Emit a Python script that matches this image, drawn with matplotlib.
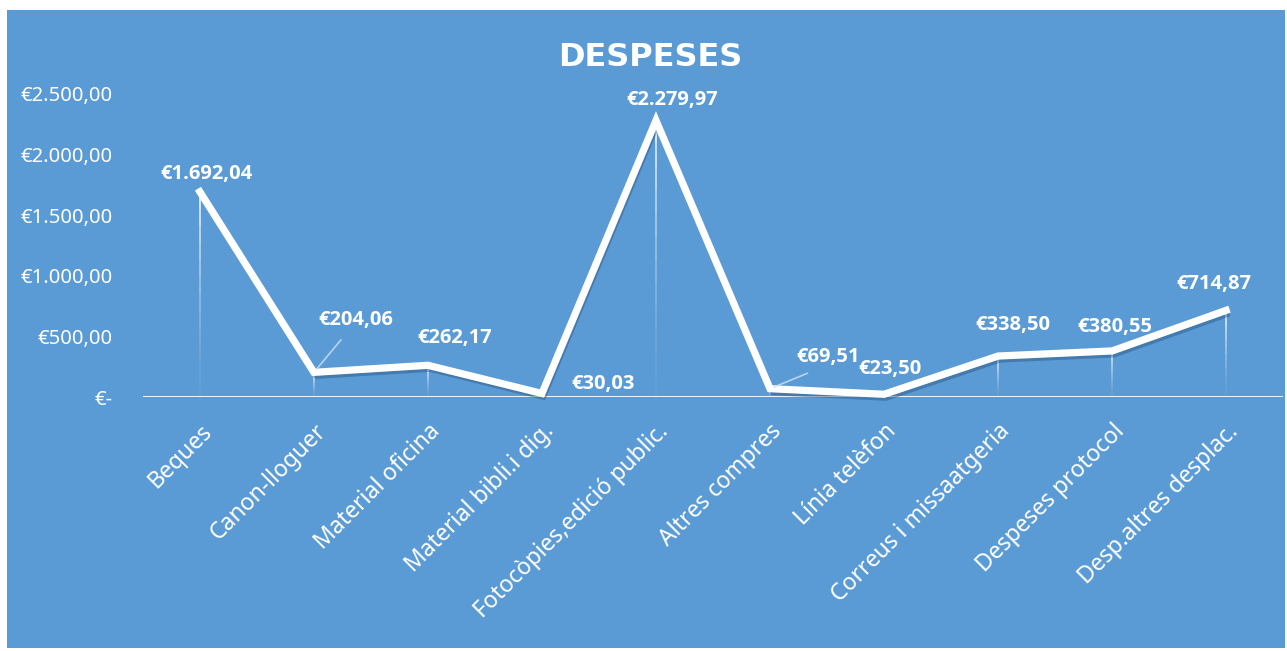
import matplotlib
matplotlib.use("Agg")
import matplotlib.pyplot as plt
import matplotlib.patheffects as pe
from matplotlib.patches import Rectangle
from matplotlib.transforms import ScaledTranslation
import numpy as np

categories = ["Beques", "Canon-lloguer", "Material oficina", "Material bibli.i dig.",
              "Fotocòpies,edició public.", "Altres compres", "Línia telèfon",
              "Correus i missaatgeria", "Despeses protocol", "Desp.altres desplac."]
values = [1692.04, 204.06, 262.17, 30.03, 2279.97, 69.51, 23.50, 338.50, 380.55, 714.87]
value_labels = ["€1.692,04", "€204,06", "€262,17", "€30,03", "€2.279,97",
                "€69,51", "€23,50", "€338,50", "€380,55", "€714,87"]
yticks = [0, 500, 1000, 1500, 2000, 2500]
ytick_labels = ["€-", "€500,00", "€1.000,00", "€1.500,00", "€2.000,00", "€2.500,00"]

# label offsets in points (dx, dy) from each data point to label centre
label_offsets = [(5, 13), (30, 38), (19, 20), (44, 7), (12, 15),
                 (42, 23), (4, 18), (11, 22), (2, 17), (-9, 19)]
leader = [False, True, False, False, False, True, False, False, False, False]

blue = "#5B9BD5"
plt.rcParams['font.family'] = ['Noto Sans', 'DejaVu Sans']

fig = plt.figure(figsize=(12.87, 6.51), dpi=100)
fig.patch.set_facecolor("white")
fig.patches.append(Rectangle((7 / 1287, 3 / 651), 1278 / 1287, 638 / 651,
                             transform=fig.transFigure, facecolor=blue,
                             edgecolor="none", zorder=-5))

ax = fig.add_axes([0.111, 0.390, 0.886, 0.466])
ax.set_zorder(2)
ax.set_facecolor("none")
x = np.arange(len(categories))

# drop lines, fading towards the axis
for xi, v in zip(x, values):
    n = 12
    for k in range(n):
        y0 = v * k / n
        y1 = v * (k + 1) / n
        ax.plot([xi, xi], [y0, y1], color="white", lw=1.3,
                alpha=0.02 + 0.8 * ((k + 1) / n) ** 1.5, solid_capstyle="butt", zorder=2)

ax.plot(x, values, color="white", lw=5.2, solid_joinstyle="miter", zorder=4,
        clip_on=False,
        path_effects=[pe.SimpleLineShadow(offset=(1.5, -3.5), shadow_color="#2a5580",
                                          alpha=0.45, linewidth=2.5),
                      pe.Normal()])

for xi, v, lab, (dx, dy), ld in zip(x, values, value_labels, label_offsets, leader):
    kw = dict(xytext=(dx, dy), textcoords="offset points", ha="center", va="center",
              color="white", fontsize=14.5, fontweight="bold", family="Open Sans",
              zorder=6)
    if ld:
        kw["arrowprops"] = dict(arrowstyle="-", color="#d0e2f4", lw=1.2, alpha=0.8,
                                shrinkA=7, shrinkB=3, relpos=(0.42, 0))
    ax.annotate(lab, (xi, v), **kw)

ax.axhline(0, color="white", lw=2, zorder=3)
ax.set_xlim(-0.5, len(categories) - 0.5)
ax.set_ylim(0, 2500)
ax.set_yticks(yticks)
ax.set_yticklabels(ytick_labels, color="white", fontsize=14.5)
ax.set_xticks(x)
ax.set_xticklabels(categories, rotation=45, ha="right", rotation_mode="anchor",
                   color="white", fontsize=16.5)
shift = ScaledTranslation(-1 / 72, 0, fig.dpi_scale_trans)
for lab in ax.get_xticklabels():
    lab.set_transform(lab.get_transform() + shift)
ax.tick_params(axis="both", length=0)
ax.tick_params(axis="x", pad=16)
ax.tick_params(axis="y", pad=22)
for s in ax.spines.values():
    s.set_visible(False)

fig.text(0.505, 0.912, "DESPESES", ha="center", va="center", color="white",
         fontsize=23, fontweight="bold", family="DejaVu Sans")

fig.savefig("out.png", dpi=100)
